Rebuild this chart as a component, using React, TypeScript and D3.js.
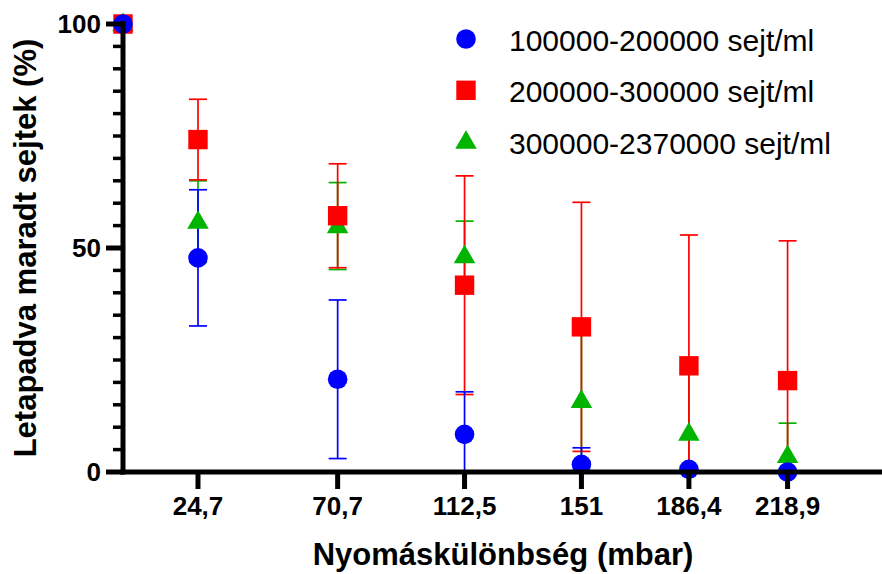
import * as d3 from "d3"

// pressure difference (mbar), first point is the untreated control at 0
const pressures = [0, 24.7, 70.7, 112.5, 151, 186.4, 218.9]
const tickValues = [24.7, 70.7, 112.5, 151, 186.4, 218.9]
const tickLabels = ["24,7", "70,7", "112,5", "151", "186,4", "218,9"]

const blueMean = [100, 47.8, 20.7, 8.4, 1.7, 0.6, 0]
const blueSd = [0, 15.2, 17.7, 9.5, 3.7, 0, 0]
const redMean = [100, 74.2, 57.2, 41.7, 32.4, 23.7, 20.4]
const redSd = [0, 9.0, 11.6, 24.4, 27.8, 29.2, 31.2]
const greenMean = [100, 55.9, 54.9, 48.2, 15.9, 8.6, 3.6]
const greenSd = [0, 9.1, 9.7, 7.8, 15.5, 14.5, 7.3]

const seriesNames = [
  "100000-200000 sejt/ml",
  "200000-300000 sejt/ml",
  "300000-2370000 sejt/ml",
]

const width = 882
const height = 574
const font = "Arial, 'Liberation Sans', sans-serif"

type Shape = "circle" | "square" | "triangle"

const series: { name: string; mean: number[]; sd: number[]; colour: string; shape: Shape }[] = [
  { name: seriesNames[0], mean: blueMean, sd: blueSd, colour: "#0000ff", shape: "circle" },
  { name: seriesNames[1], mean: redMean, sd: redSd, colour: "#ff0000", shape: "square" },
  { name: seriesNames[2], mean: greenMean, sd: greenSd, colour: "#00b400", shape: "triangle" },
]

const x = d3.scaleLinear().domain([0, 250]).range([123, 882])
const y = d3.scaleLinear().domain([0, 100]).range([472, 24])

const Marker = ({ shape, cx, cy, colour }: { shape: Shape; cx: number; cy: number; colour: string }) => {
  if (shape === "circle") return <circle cx={cx} cy={cy} r={9.8} fill={colour} />
  if (shape === "square") return <rect x={cx - 9.7} y={cy - 9.7} width={19.4} height={19.4} fill={colour} />
  const tri = d3.symbol(d3.symbolTriangle, 200)()
  return <path d={tri as string} transform={`translate(${cx},${cy + 1})`} fill={colour} />
}

const ErrorBar = ({ px, m, s, colour }: { px: number; m: number; s: number; colour: string }) => {
  if (!s) return null
  const hi = m + s
  const lo = Math.max(0, m - s)
  const cap = 9
  return (
    <g stroke={colour} strokeWidth={1.7} fill="none">
      <line x1={px} x2={px} y1={y(hi)} y2={y(lo)} />
      <line x1={px - cap} x2={px + cap} y1={y(hi)} y2={y(hi)} />
      {m - s >= 0 && <line x1={px - cap} x2={px + cap} y1={y(lo)} y2={y(lo)} />}
    </g>
  )
}

export default function App() {
  const minorTicks = d3.range(0, 101, 5)
  const majorTicks = [0, 50, 100]
  const drawOrder = [series[2], series[1], series[0]]

  return (
    <svg
      width={width}
      height={height}
      style={{ position: "absolute", left: 0, top: 0, background: "#fff" }}
      fontFamily={font}
    >
      {/* data */}
      {drawOrder.map((s) => (
        <g key={s.name}>
          {pressures.map((p, i) => (
            <ErrorBar key={i} px={x(p)} m={s.mean[i]} s={s.sd[i]} colour={s.colour} />
          ))}
        </g>
      ))}
      {drawOrder.map((s) => (
        <g key={s.name + "m"}>
          {pressures.map((p, i) => (
            <Marker key={i} shape={s.shape} cx={x(p)} cy={y(s.mean[i])} colour={s.colour} />
          ))}
        </g>
      ))}

      {/* y axis */}
      <line x1={x(0)} x2={x(0)} y1={y(100) - 3} y2={y(0) + 2.5} stroke="#000" strokeWidth={5} />
      {minorTicks.map((t) => (
        <line
          key={t}
          x1={x(0) - (majorTicks.includes(t) ? 17 : 10)}
          x2={x(0)}
          y1={y(t)}
          y2={y(t)}
          stroke="#000"
          strokeWidth={majorTicks.includes(t) ? 5 : 3.5}
        />
      ))}
      {majorTicks.map((t) => (
        <text
          key={t}
          x={101}
          y={y(t)}
          dy="0.36em"
          textAnchor="end"
          fontWeight="bold"
          fontSize={26}
        >
          {t}
        </text>
      ))}

      {/* x axis */}
      <line x1={x(0) - 2.5} x2={width} y1={y(0)} y2={y(0)} stroke="#000" strokeWidth={5} />
      {tickValues.map((t, i) => (
        <g key={t}>
          <line x1={x(t)} x2={x(t)} y1={y(0)} y2={y(0) + 17} stroke="#000" strokeWidth={5} />
          <text x={x(t)} y={515} textAnchor="middle" fontWeight="bold" fontSize={26}>
            {tickLabels[i]}
          </text>
        </g>
      ))}

      {/* axis titles */}
      <text x={503} y={565} textAnchor="middle" fontWeight="bold" fontSize={31}>
        Nyomáskülönbség (mbar)
      </text>
      <text
        transform="translate(36,248) rotate(-90)"
        textAnchor="middle"
        fontWeight="bold"
        fontSize={31}
      >
        Letapadva maradt sejtek (%)
      </text>

      {/* legend */}
      {series.map((s, i) => {
        const ly = 39 + i * 51.3
        return (
          <g key={s.name + "l"}>
            <Marker shape={s.shape} cx={466} cy={ly} colour={s.colour} />
            <text x={509} y={ly + 12} fontSize={30}>
              {s.name}
            </text>
          </g>
        )
      })}
    </svg>
  )
}
